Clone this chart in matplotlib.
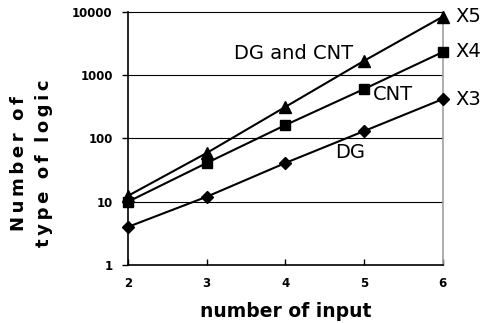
import matplotlib
matplotlib.use('Agg')
import matplotlib.pyplot as plt

inputs = [2, 3, 4, 5, 6]
dg = [4, 12, 41, 131, 420]
cnt = [10, 41, 163, 606, 2330]
dg_cnt = [12.4, 59, 316, 1690, 8450]
end_labels = ["X3", "X4", "X5"]

plt.rcParams['font.family'] = ['DejaVu Sans']

fig = plt.figure(figsize=(4.84, 3.23), dpi=100)
ax = fig.add_axes([0.2645, 0.1796, 0.6505, 0.7834])

# courbes
ax.plot(inputs, dg_cnt, color="black", lw=1.5, marker="^", ms=8, clip_on=False, zorder=3)
ax.plot(inputs, cnt, color="black", lw=1.5, marker="s", ms=6.5, clip_on=False, zorder=3)
ax.plot(inputs, dg, color="black", lw=1.5, marker="D", ms=6.5, clip_on=False, zorder=3)

ax.set_yscale("log")
ax.set_ylim(1, 10000)
ax.set_xlim(2, 6)
ax.set_xticks(inputs)
ax.set_yticks([1, 10, 100, 1000, 10000])
ax.set_yticklabels(["1", "10", "100", "1000", "10000"])
ax.minorticks_off()
ax.tick_params(axis="y", direction="out", length=4, width=1, labelsize=8.5, pad=7)
ax.tick_params(axis="x", direction="in", length=4, width=1, labelsize=8.5, pad=9)
for lab in ax.get_xticklabels() + ax.get_yticklabels():
    lab.set_fontweight("bold")

for y in [10, 100, 1000]:
    ax.axhline(y, color="black", lw=0.8, zorder=1)

ax.spines["left"].set_linewidth(1.2)
ax.spines["bottom"].set_linewidth(1.2)
ax.spines["top"].set_linewidth(0.8)
ax.spines["right"].set_color("#a0a0a0")
ax.spines["right"].set_linewidth(1.2)

# étiquettes en bout de courbe
for lab, serie in zip(end_labels, [dg, cnt, dg_cnt]):
    ax.annotate(lab, (inputs[-1], serie[-1]), xytext=(9, 0), textcoords="offset points",
                va="center", ha="left", fontsize=14, annotation_clip=False)

ax.text(4.1, 2240, "DG and CNT", ha="center", va="center", fontsize=14)
ax.text(5.37, 490, "CNT", ha="center", va="center", fontsize=14)
ax.text(4.82, 61, "DG", ha="center", va="center", fontsize=14)

ax.set_xlabel("number of input", fontsize=13.5, fontweight="bold", labelpad=8)
ts = "\u2009"
ligne1 = ts.join("Number") + "  " + ts.join("of")
ligne2 = "  ".join(ts.join(m) for m in ["type", "of", "logic"])
fig.text(0.065, 0.495, ligne1 + "\n" + ligne2, rotation=90,
         ha="center", va="center", fontsize=13, fontweight="bold", linespacing=1.55)

plt.savefig("out.png", dpi=100)
plt.close()
